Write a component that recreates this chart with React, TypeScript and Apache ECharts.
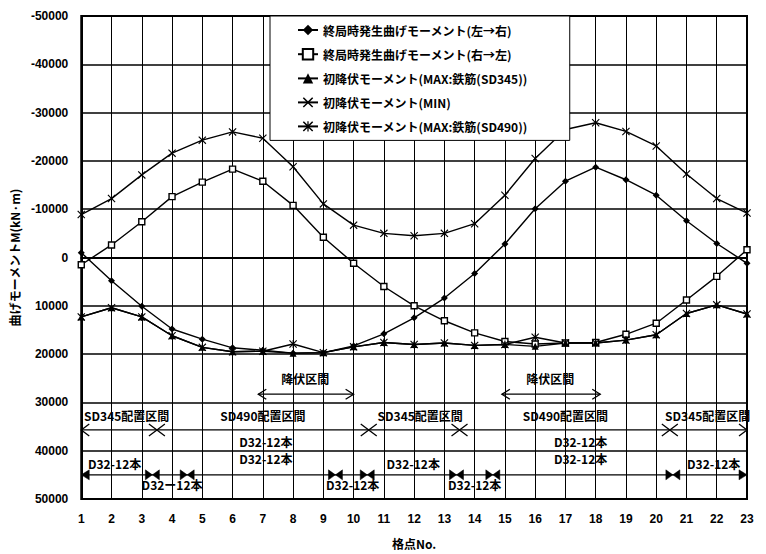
import React, { useEffect, useRef } from "react";
import * as echarts from "echarts";

// ---- data ----
const nodes = [1, 2, 3, 4, 5, 6, 7, 8, 9, 10, 11, 12, 13, 14, 15, 16, 17, 18, 19, 20, 21, 22, 23];

const momentLR = [-1000, 4800, 10100, 14800, 16900, 18700, 19200, 19800, 19700, 18300, 15800, 12500, 8400, 3300, -2800, -10100, -15800, -18700, -16100, -12900, -7600, -2900, 1200];
const momentRL = [1500, -2600, -7400, -12600, -15600, -18300, -15800, -10800, -4200, 1200, 6000, 10000, 13100, 15600, 17400, 17900, 17700, 17600, 15900, 13600, 8800, 3900, -1600];
const yieldMax345 = [12300, 10400, 12300, 16200, 18600, 19500, 19400, 19800, 19700, 18500, 17600, 18000, 17700, 18200, 18000, 18400, 17700, 17700, 17100, 16000, 11600, 9800, 11700];
const yieldMin = [-8900, -12200, -17100, -21600, -24300, -26000, -24700, -18800, -11100, -6700, -5000, -4500, -5000, -7000, -12900, -20500, -26500, -27900, -26100, -23100, -17300, -12200, -9200];
const yieldMax490 = [12300, 10400, 12300, 16200, 18600, 19500, 19400, 17900, 19700, 18500, 17600, 18000, 17700, 18200, 18000, 16500, 17700, 17700, 17100, 16000, 11600, 9800, 11700];

const seriesNames = [
  "終局時発生曲げモーメント(左→右)",
  "終局時発生曲げモーメント(右→左)",
  "初降伏モーメント(MAX:鉄筋(SD345))",
  "初降伏モーメント(MIN)",
  "初降伏モーメント(MAX:鉄筋(SD490))",
];

// ---- annotation content (data coordinates) ----
const yieldLabel = "降伏区間";
const yieldSpans = [[6.85, 10.0], [14.9, 18.15]];
const yieldLabelX = [8.4, 16.5];
const yieldArrowY = 28300;
const yieldLabelY = 25000;

const sectionBounds = [1, 3.5, 10.5, 13.5, 20.45, 23];
const sectionLabels = ["SD345配置区間", "SD490配置区間", "SD345配置区間", "SD490配置区間", "SD345配置区間"];
const sectionLabelX = [2.5, 7.0, 12.2, 17.0, 21.7];
const sectionArrowY = 35700;
const sectionLabelY = 32800;

const midBarLabelX = [7.1, 17.5];
const midBarLabelY = [38100, 41600];
const barText = "D32-12本";
const barTextLong = "D32ー12本";

const rebarLineY = 45000;
const rebarJoints = [3.35, 4.5, 9.4, 10.45, 13.4, 14.6, 20.55];
const rebarUpperLabelX = [2.1, 11.97, 21.9];
const rebarUpperY = 42600;
const rebarLowerLabelX = [4.0, 9.97, 14.0];
const rebarLowerTexts = [barTextLong, barText, barText];
const rebarLowerY = 47000;

const FONT = '"Noto Sans CJK JP", "Liberation Sans", sans-serif';
const crossPath = "path://M1,0 L5,4 L9,0 L10,1 L6,5 L10,9 L9,10 L5,6 L1,10 L0,9 L4,5 L0,1 Z";
const starPath = crossPath + " M4.4,0 L5.6,0 L5.6,10 L4.4,10 Z";

function renderAnnotations(_params: any, api: any) {
  const P = (x: number, y: number) => api.coord([x, y]);
  const children: any[] = [];
  const stroke = "#000";
  const line = (pts: number[][], w = 1.3) =>
    children.push({ type: "polyline", shape: { points: pts }, style: { stroke, lineWidth: w, fill: null } });
  const tri = (pts: number[][]) =>
    children.push({ type: "polygon", shape: { points: pts }, style: { fill: stroke, stroke, lineWidth: 0.5 } });
  const text = (s: string, x: number, y: number) => {
    const [px, py] = P(x, y);
    children.push({
      type: "text",
      x: px,
      y: py,
      style: {
        text: s,
        fill: "#000",
        fontSize: 12,
        fontWeight: "bold",
        fontFamily: FONT,
        align: "center",
        verticalAlign: "middle",
        textAlign: "center",
        textVerticalAlign: "middle",
      },
    });
  };
  const openL = (p: number[], w: number, h: number) => line([[p[0] + w, p[1] - h], p, [p[0] + w, p[1] + h]]);
  const openR = (p: number[], w: number, h: number) => line([[p[0] - w, p[1] - h], p, [p[0] - w, p[1] + h]]);

  // yield intervals
  yieldSpans.forEach((sp, i) => {
    const a = P(sp[0], yieldArrowY);
    const b = P(sp[1], yieldArrowY);
    line([a, b]);
    openL(a, 8, 5);
    openR(b, 8, 5);
    text(yieldLabel, yieldLabelX[i], yieldLabelY);
  });

  // section arrows
  const s0 = P(sectionBounds[0], sectionArrowY);
  const s1 = P(sectionBounds[sectionBounds.length - 1], sectionArrowY);
  line([s0, s1]);
  sectionBounds.forEach((bx, i) => {
    const p = P(bx, sectionArrowY);
    if (i > 0) openR(p, 8, 6);
    if (i < sectionBounds.length - 1) openL(p, 8, 6);
  });
  sectionLabels.forEach((s, i) => text(s, sectionLabelX[i], sectionLabelY));

  // middle rebar labels
  midBarLabelX.forEach((x) => midBarLabelY.forEach((y) => text(barText, x, y)));

  // rebar line
  const r0 = P(nodes[0], rebarLineY);
  const r1 = P(nodes[nodes.length - 1], rebarLineY);
  line([r0, r1]);
  tri([r0, [r0[0] + 8, r0[1] - 5], [r0[0] + 8, r0[1] + 5]]);
  tri([r1, [r1[0] - 8, r1[1] - 5], [r1[0] - 8, r1[1] + 5]]);
  rebarJoints.forEach((jx) => {
    const p = P(jx, rebarLineY);
    tri([p, [p[0] - 7, p[1] - 5], [p[0] - 7, p[1] + 5]]);
    tri([p, [p[0] + 7, p[1] - 5], [p[0] + 7, p[1] + 5]]);
  });
  rebarUpperLabelX.forEach((x) => text(barText, x, rebarUpperY));
  rebarLowerLabelX.forEach((x, i) => text(rebarLowerTexts[i], x, rebarLowerY));

  return { type: "group", children };
}

function makeLine(name: string, values: number[], symbol: string, size: number, fill = "#000") {
  return {
    name,
    type: "line",
    data: nodes.map((x, i) => [x, values[i]]),
    symbol,
    symbolSize: size,
    lineStyle: { color: "#000", width: 1.4 },
    itemStyle: { color: fill, borderColor: "#000", borderWidth: fill === "#000" ? 0 : 1.4 },
    z: 3,
  };
}

export default function App() {
  const ref = useRef<HTMLDivElement>(null);
  useEffect(() => {
    document.body.style.margin = "0";
    const chart = echarts.init(ref.current!, null, { renderer: "svg" });
    chart.setOption({
      animation: false,
      backgroundColor: "#fff",
      textStyle: { fontFamily: FONT },
      grid: { left: 81, right: 19, top: 16, bottom: 52, show: true, borderColor: "#000", borderWidth: 2, backgroundColor: "transparent" },
      legend: {
        data: seriesNames,
        orient: "vertical",
        left: 270,
        top: 16,
        padding: [8, 42, 8, 27],
        itemGap: 12,
        itemWidth: 20,
        itemHeight: 13,
        backgroundColor: "#fff",
        borderColor: "#000",
        borderWidth: 1,
        textStyle: { fontSize: 12, color: "#000", fontFamily: FONT, fontWeight: "bold" },
      },
      xAxis: {
        type: "value",
        min: 1,
        max: 23,
        interval: 1,
        name: "格点No.",
        nameLocation: "middle",
        nameGap: 38,
        nameTextStyle: { fontSize: 12, color: "#000", fontWeight: "bold", fontFamily: FONT },
        axisLine: { lineStyle: { color: "#000", width: 2 } },
        axisTick: { show: false },
        axisLabel: { color: "#000", fontSize: 12, fontWeight: "bold", margin: 14, fontFamily: "Liberation Sans" },
        splitLine: { show: true, lineStyle: { color: "#000", width: 1 } },
      },
      yAxis: {
        type: "value",
        inverse: true,
        min: -50000,
        max: 50000,
        interval: 10000,
        name: "曲げモーメントM(kN·m)",
        nameLocation: "middle",
        nameRotate: 90,
        nameGap: 48,
        nameTextStyle: { fontSize: 12, color: "#000", fontWeight: "bold", fontFamily: FONT },
        axisLine: { lineStyle: { color: "#000", width: 2 } },
        axisTick: { show: false },
        axisLabel: { color: "#000", fontSize: 12, fontWeight: "bold", margin: 13, fontFamily: "Liberation Sans", formatter: (v: number) => String(v) },
        splitLine: { show: true, lineStyle: { color: "#000", width: 1.6 } },
      },
      series: [
        makeLine(seriesNames[0], momentLR, "diamond", 7),
        makeLine(seriesNames[1], momentRL, "rect", 6, "#fff"),
        makeLine(seriesNames[2], yieldMax345, "triangle", 7),
        makeLine(seriesNames[3], yieldMin, crossPath, 8),
        makeLine(seriesNames[4], yieldMax490, starPath, 8),
        {
          name: "annotations",
          type: "custom",
          coordinateSystem: "cartesian2d",
          data: [[1, 0]],
          renderItem: renderAnnotations,
          silent: true,
          clip: false,
          z: 4,
        },
      ],
    });
    return () => chart.dispose();
  }, []);
  return <div ref={ref} style={{ width: 766, height: 554 }} />;
}
